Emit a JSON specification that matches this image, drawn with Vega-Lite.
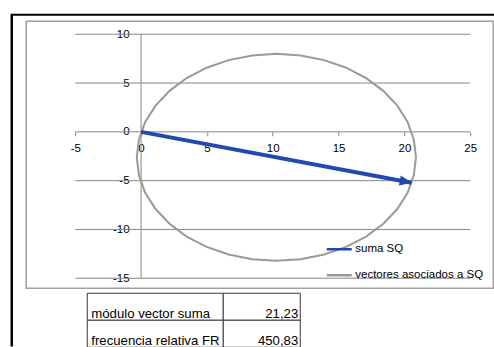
{
  "$schema": "https://vega.github.io/schema/vega-lite/v6.json",
  "background": "white",
  "padding": {"left": 8.25, "top": 12.25, "right": 0, "bottom": 0},
  "config": {
    "font": "Liberation Sans",
    "view": {"stroke": null},
    "axis": {"labelColor": "black", "labelFontSize": 11.5, "title": null}
  },
  "datasets": {
    "uno": [{}],
    "grid": [{"g": 10}, {"g": 5}, {"g": 0}, {"g": -5}, {"g": -10}, {"g": -15}],
    "suma": [
      {"serie": "suma SQ", "i": 0, "x": 0, "y": 0},
      {"serie": "suma SQ", "i": 1, "x": 20.55, "y": -5.22}
    ],
    "vectores": [
      {"serie": "vectores asociados a SQ", "i": 0, "x": 20.88, "y": -2.61},
      {"serie": "vectores asociados a SQ", "i": 1, "x": 20.71, "y": -0.77},
      {"serie": "vectores asociados a SQ", "i": 2, "x": 20.24, "y": 1.02},
      {"serie": "vectores asociados a SQ", "i": 3, "x": 19.46, "y": 2.69},
      {"serie": "vectores asociados a SQ", "i": 4, "x": 18.4, "y": 4.2},
      {"serie": "vectores asociados a SQ", "i": 5, "x": 17.09, "y": 5.51},
      {"serie": "vectores asociados a SQ", "i": 6, "x": 15.58, "y": 6.57},
      {"serie": "vectores asociados a SQ", "i": 7, "x": 13.9, "y": 7.35},
      {"serie": "vectores asociados a SQ", "i": 8, "x": 12.12, "y": 7.83},
      {"serie": "vectores asociados a SQ", "i": 9, "x": 10.28, "y": 7.99},
      {"serie": "vectores asociados a SQ", "i": 10, "x": 8.44, "y": 7.83},
      {"serie": "vectores asociados a SQ", "i": 11, "x": 6.65, "y": 7.35},
      {"serie": "vectores asociados a SQ", "i": 12, "x": 4.98, "y": 6.57},
      {"serie": "vectores asociados a SQ", "i": 13, "x": 3.46, "y": 5.51},
      {"serie": "vectores asociados a SQ", "i": 14, "x": 2.16, "y": 4.2},
      {"serie": "vectores asociados a SQ", "i": 15, "x": 1.1, "y": 2.69},
      {"serie": "vectores asociados a SQ", "i": 16, "x": 0.31, "y": 1.02},
      {"serie": "vectores asociados a SQ", "i": 17, "x": -0.16, "y": -0.77},
      {"serie": "vectores asociados a SQ", "i": 18, "x": -0.33, "y": -2.61},
      {"serie": "vectores asociados a SQ", "i": 19, "x": -0.16, "y": -4.45},
      {"serie": "vectores asociados a SQ", "i": 20, "x": 0.31, "y": -6.24},
      {"serie": "vectores asociados a SQ", "i": 21, "x": 1.1, "y": -7.91},
      {"serie": "vectores asociados a SQ", "i": 22, "x": 2.16, "y": -9.42},
      {"serie": "vectores asociados a SQ", "i": 23, "x": 3.46, "y": -10.73},
      {"serie": "vectores asociados a SQ", "i": 24, "x": 4.98, "y": -11.79},
      {"serie": "vectores asociados a SQ", "i": 25, "x": 6.65, "y": -12.57},
      {"serie": "vectores asociados a SQ", "i": 26, "x": 8.44, "y": -13.05},
      {"serie": "vectores asociados a SQ", "i": 27, "x": 10.28, "y": -13.21},
      {"serie": "vectores asociados a SQ", "i": 28, "x": 12.12, "y": -13.05},
      {"serie": "vectores asociados a SQ", "i": 29, "x": 13.9, "y": -12.57},
      {"serie": "vectores asociados a SQ", "i": 30, "x": 15.58, "y": -11.79},
      {"serie": "vectores asociados a SQ", "i": 31, "x": 17.09, "y": -10.73},
      {"serie": "vectores asociados a SQ", "i": 32, "x": 18.4, "y": -9.42},
      {"serie": "vectores asociados a SQ", "i": 33, "x": 19.46, "y": -7.91},
      {"serie": "vectores asociados a SQ", "i": 34, "x": 20.24, "y": -6.24},
      {"serie": "vectores asociados a SQ", "i": 35, "x": 20.71, "y": -4.45},
      {"serie": "vectores asociados a SQ", "i": 36, "x": 20.88, "y": -2.61}
    ],
    "tabla": [
      {"fila": "módulo vector suma", "valor": "21,23"},
      {"fila": "frecuencia relativa FR", "valor": "450,83"}
    ]
  },
  "bounds": "flush",
  "spacing": 5,
  "vconcat": [
    {
      "width": 467,
      "height": 267,
      "view": {"stroke": "#a0a0a0", "strokeWidth": 1.5},
      "layer": [
        {
          "data": {"name": "uno"},
          "mark": {"type": "rule", "color": "black", "strokeWidth": 2.5, "strokeCap": "butt"},
          "encoding": {
            "x": {"datum": -9.822, "type": "quantitative"},
            "y": {"datum": 12.0, "type": "quantitative"},
            "y2": {"datum": -22.0}
          }
        },
        {
          "data": {"name": "uno"},
          "mark": {"type": "rule", "color": "black", "strokeWidth": 2, "strokeCap": "butt"},
          "encoding": {
            "x": {"datum": -9.9, "type": "quantitative"},
            "x2": {"datum": 26.85},
            "y": {"datum": 12.0, "type": "quantitative"}
          }
        },
        {
          "data": {"name": "grid"},
          "mark": {"type": "rule", "color": "#868686", "strokeWidth": 1},
          "encoding": {
            "y": {"field": "g", "type": "quantitative"},
            "x": {"datum": -5, "type": "quantitative"},
            "x2": {"datum": 25}
          }
        },
        {
          "data": {"name": "uno"},
          "mark": {"type": "rule", "color": "#868686", "strokeWidth": 1},
          "encoding": {
            "x": {"datum": 0, "type": "quantitative"},
            "y": {"datum": 10, "type": "quantitative"},
            "y2": {"datum": -15}
          }
        },
        {
          "data": {"name": "vectores"},
          "mark": {"type": "line", "strokeWidth": 2},
          "encoding": {
            "x": {
              "field": "x", "type": "quantitative",
              "scale": {"domain": [-8.721, 26.747], "nice": false, "zero": false},
              "axis": {
                "orient": "bottom", "offset": -156.4,
                "values": [-5, 0, 5, 10, 15, 20, 25],
                "labelExpr": "'' + datum.value",
                "domain": false, "grid": false, "ticks": true, "tickSize": 4,
                "tickColor": "#868686", "labelPadding": 7,
                "labelFlush": false, "labelOverlap": false
              }
            },
            "y": {
              "field": "y", "type": "quantitative",
              "scale": {"domain": [-16.025, 11.332], "nice": false, "zero": false},
              "axis": {
                "orient": "left", "offset": -114.83,
                "values": [-15, -10, -5, 0, 5, 10],
                "labelExpr": "'' + datum.value",
                "domain": false, "grid": false, "ticks": false, "labelPadding": 12,
                "labelFlush": false, "labelOverlap": false
              }
            },
            "order": {"field": "i", "type": "quantitative"},
            "color": {
              "field": "serie", "type": "nominal",
              "scale": {"domain": ["suma SQ", "vectores asociados a SQ"], "range": ["#2349b0", "#999999"]},
              "legend": {
                "title": null, "orient": "none", "legendX": 299, "legendY": 214,
                "symbolType": "stroke", "symbolSize": 625, "symbolStrokeWidth": 2.5,
                "labelFontSize": 11.5, "labelColor": "black", "labelOffset": 2,
                "rowPadding": 6, "padding": 0
              }
            }
          }
        },
        {
          "data": {"name": "suma"},
          "mark": {"type": "line", "strokeWidth": 4, "strokeCap": "butt"},
          "encoding": {
            "x": {"field": "x", "type": "quantitative"},
            "y": {"field": "y", "type": "quantitative"},
            "order": {"field": "i", "type": "quantitative"},
            "color": {"field": "serie", "type": "nominal"}
          }
        },
        {
          "data": {"name": "suma"},
          "transform": [{"filter": "datum.i == 1"}],
          "mark": {
            "type": "point", "shape": "M0,0L-1,-0.42L-1,0.42Z", "size": 576,
            "angle": 10.65, "filled": true, "opacity": 1, "color": "#2349b0", "strokeWidth": 0
          },
          "encoding": {
            "x": {"field": "x", "type": "quantitative"},
            "y": {"field": "y", "type": "quantitative"}
          }
        }
      ]
    },
    {
      "bounds": "flush",
      "spacing": 0,
      "hconcat": [
        {
          "width": 61,
          "height": 54,
          "data": {"values": [{"t": ""}]},
          "mark": {"type": "text"},
          "encoding": {"text": {"field": "t"}}
        },
        {
          "width": 136,
          "height": 54,
          "data": {"name": "tabla"},
          "layer": [
            {
              "mark": {"type": "rect", "fill": "white", "stroke": "#3a3a3a", "strokeWidth": 1},
              "encoding": {
                "y": {"field": "fila", "type": "nominal", "sort": null, "axis": null,
                      "scale": {"paddingInner": 0, "paddingOuter": 0}}
              }
            },
            {
              "mark": {"type": "text", "align": "left", "baseline": "alphabetic", "dx": 4, "dy": -2, "fontSize": 13.2, "color": "black"},
              "encoding": {
                "y": {"field": "fila", "type": "nominal", "sort": null, "axis": null, "bandPosition": 1},
                "x": {"datum": 0, "type": "quantitative", "scale": {"domain": [0, 1]}, "axis": null},
                "text": {"field": "fila"}
              }
            }
          ]
        },
        {
          "width": 77,
          "height": 54,
          "data": {"name": "tabla"},
          "layer": [
            {
              "mark": {"type": "rect", "fill": "white", "stroke": "#3a3a3a", "strokeWidth": 1},
              "encoding": {
                "y": {"field": "fila", "type": "nominal", "sort": null, "axis": null,
                      "scale": {"paddingInner": 0, "paddingOuter": 0}}
              }
            },
            {
              "mark": {"type": "text", "align": "right", "baseline": "alphabetic", "dx": -2, "dy": -2, "fontSize": 13.2, "color": "black"},
              "encoding": {
                "y": {"field": "fila", "type": "nominal", "sort": null, "axis": null, "bandPosition": 1},
                "x": {"datum": 1, "type": "quantitative", "scale": {"domain": [0, 1]}, "axis": null},
                "text": {"field": "valor"}
              }
            }
          ]
        }
      ]
    }
  ]
}
